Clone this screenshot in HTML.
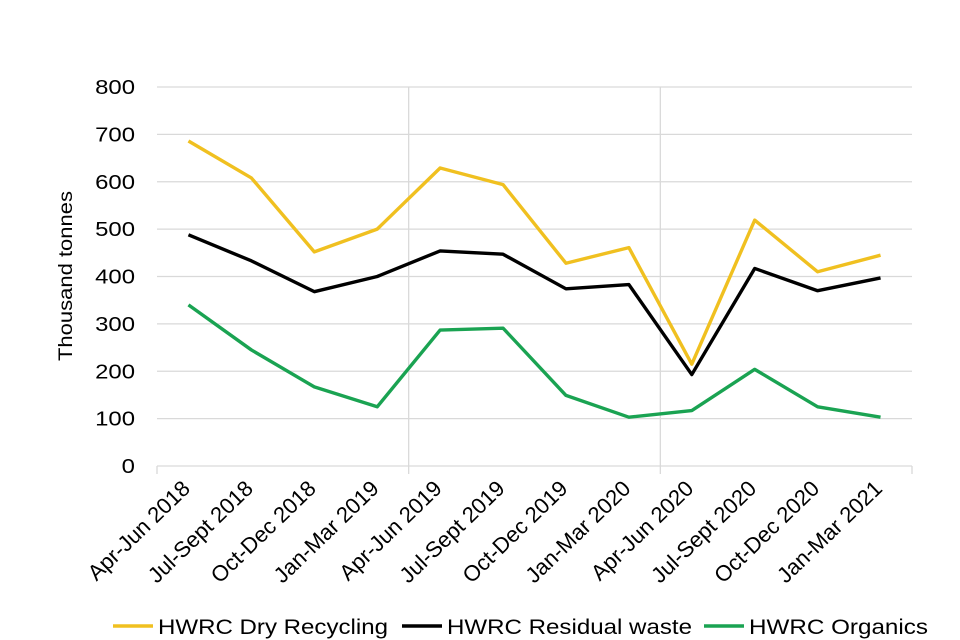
<!DOCTYPE html>
<html><head><meta charset="utf-8"><style>
html,body{margin:0;padding:0;background:#fff;}
svg{display:block;font-family:"Liberation Sans",Arial,sans-serif;}
</style></head><body>
<svg id="chart" width="960" height="640"></svg>
<script>
const categories=["Apr-Jun 2018","Jul-Sept 2018","Oct-Dec 2018","Jan-Mar 2019","Apr-Jun 2019","Jul-Sept 2019","Oct-Dec 2019","Jan-Mar 2020","Apr-Jun 2020","Jul-Sept 2020","Oct-Dec 2020","Jan-Mar 2021"];
const dryRecycling=[686,608,452,500,629,594,428,461,215,519,410,445];
const residualWaste=[488,433,368,400,454,447,374,383,193,417,370,397];
const organics=[340,245,167,125,287,291,149,103,117,204,125,103];
const yTicks=[0,100,200,300,400,500,600,700,800];
const seriesNames=["HWRC Dry Recycling","HWRC Residual waste","HWRC Organics"];

const NS="http://www.w3.org/2000/svg";
const svg=document.getElementById('chart');
const L=157,R=912,T=87,B=466,yMax=800;
const band=(R-L)/categories.length;
const x=i=>L+band*(i+0.5);
const y=v=>B-(v/yMax)*(B-T);
function mk(tag,attrs,parent){const e=document.createElementNS(NS,tag);for(const k in attrs)e.setAttribute(k,attrs[k]);(parent||svg).appendChild(e);return e;}

const grid=mk('g',{});


yTicks.forEach(t=>{
  const l=mk('line',{x1:L,x2:R,y1:y(t),y2:y(t),stroke:'#d9d9d9','stroke-width':1.3},grid);
  
  
  const s=String(t);
  const tx=mk('text',{x:135,y:y(t)+7,'text-anchor':'end','font-size':20,fill:'#000',textLength:s.length*13.3,lengthAdjust:'spacingAndGlyphs'});
  tx.textContent=s;
  
  
});
[0,4,8,12].forEach(i=>{
  const xx=L+band*i;
  const l=mk('line',{x1:xx,x2:xx,y1:(i===0||i===12)?B:T,y2:B+8,stroke:'#d9d9d9','stroke-width':1.3},grid);
  
  
});
const yt=mk('text',{x:0,y:0,transform:'translate(72,276) rotate(-90)','text-anchor':'middle','font-size':19,fill:'#000',textLength:170,lengthAdjust:'spacingAndGlyphs'});
yt.textContent='Thousand tonnes';



categories.forEach((c,i)=>{
  const tx=mk('text',{x:0,y:0,transform:`translate(${x(i)+3},${B+24}) rotate(-44)`,'text-anchor':'end','font-size':22,fill:'#000'});
  tx.textContent=c;
  
  
});

const series=[[dryRecycling,'#f0c020','dry-recycling-line'],[residualWaste,'#000000','residual-waste-line'],[organics,'#1aa352','organics-line']];
series.forEach(([d,col,name])=>{
  const p=mk('polyline',{points:d.map((v,i)=>x(i)+','+y(v)).join(' '),fill:'none',stroke:col,'stroke-width':3.4,'stroke-linejoin':'round'});
  
  
});

const legX=[113,402,704];
const legW=[230,245,179];
series.forEach(([d,col,name],i)=>{
  const g=mk('g',{});
  
  
  mk('line',{x1:legX[i],x2:legX[i]+40,y1:626,y2:626,stroke:col,'stroke-width':3.4},g);
  const t=mk('text',{x:legX[i]+45,y:634,'font-size':21,fill:'#000',textLength:legW[i],lengthAdjust:'spacingAndGlyphs'},g);
  t.textContent=seriesNames[i];
});
</script>
</body></html>
